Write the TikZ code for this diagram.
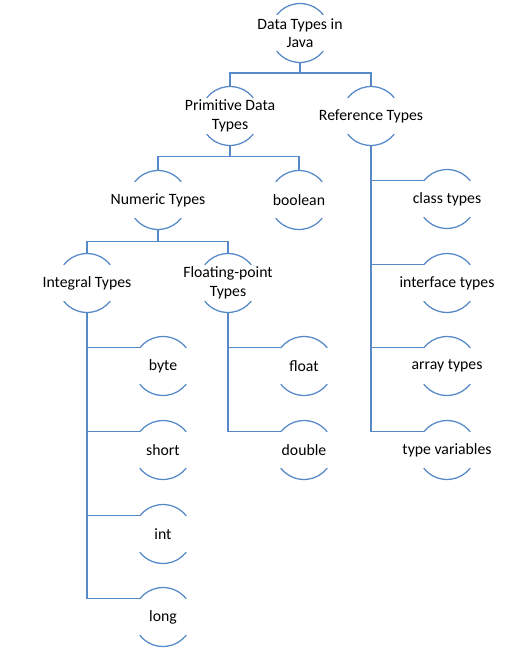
\documentclass[tikz,border=0pt]{standalone}
\usepackage{fontspec}
\setmainfont{Carlito}
\definecolor{linkblue}{RGB}{86,137,200}
\tikzstyle{typenode}=[inner sep=1pt,align=center,font=\fontsize{11.2}{13.2}\selectfont]
\tikzstyle{rim}=[draw=linkblue,line width=0.9pt]
\tikzstyle{link}=[draw=linkblue,line width=0.9pt]

\begin{document}
\begin{tikzpicture}[x=0.025cm,y=0.025cm]

   \def\r{29.5}
   \useasboundingbox (0,0) rectangle (531,-657);

% Types
    \foreach \pos/\name/\txt in {{(300,-33)/root/{Data Types in\\Java}}, {(230,-116)/prim/{Primitive Data\\Types}}, {(371,-116)/ref/{Reference Types}},
        {(158,-200)/num/{Numeric Types}}, {(299,-200)/bool/{boolean}}, {(87,-283)/integ/{Integral Types}}, {(228,-283)/flt/{Floating-point\\Types}},
        {(163,-366)/byte/{byte}}, {(163,-450)/short/{short}}, {(163,-534)/int/{int}}, {(163,-617)/long/{long}},
        {(304,-366)/float/{float}}, {(304,-450)/double/{double}},
        {(447,-199)/class/{class types}}, {(447,-283)/iface/{interface types}}, {(447,-366)/array/{array types}}, {(447,-450)/tvar/{type variables}}}
    	\node[typenode] (\name) at \pos {\txt};

    % half circles round each type
    \foreach \name in {root,prim,ref,num,bool,integ,flt,byte,short,int,long,float,double,class,iface,array,tvar}{
        \draw[rim] ([shift={(38:\r)}]\name.center) arc[start angle=38,end angle=142,radius=\r];
        \draw[rim] ([shift={(218:\r)}]\name.center) arc[start angle=218,end angle=322,radius=\r];
    }

% Tree links
    \foreach \source/ \dest/\dy in {root/prim/10.5, root/ref/10.5, prim/num/11, prim/bool/11, num/integ/12, num/flt/12}
        \path[link] ([shift={(0,-\r)}]\source.center) -- ++(0,-\dy) -| ([shift={(0,\r)}]\dest.center);

%side lists
    \foreach \source/ \dest in {integ/byte, integ/short, integ/int, integ/long, flt/float, flt/double, ref/class, ref/iface, ref/array, ref/tvar}
        \path[link] ([shift={(0,-\r)}]\source.center) |- ([shift={(142:\r)}]\dest.center);

\end{tikzpicture}
\end{document}
